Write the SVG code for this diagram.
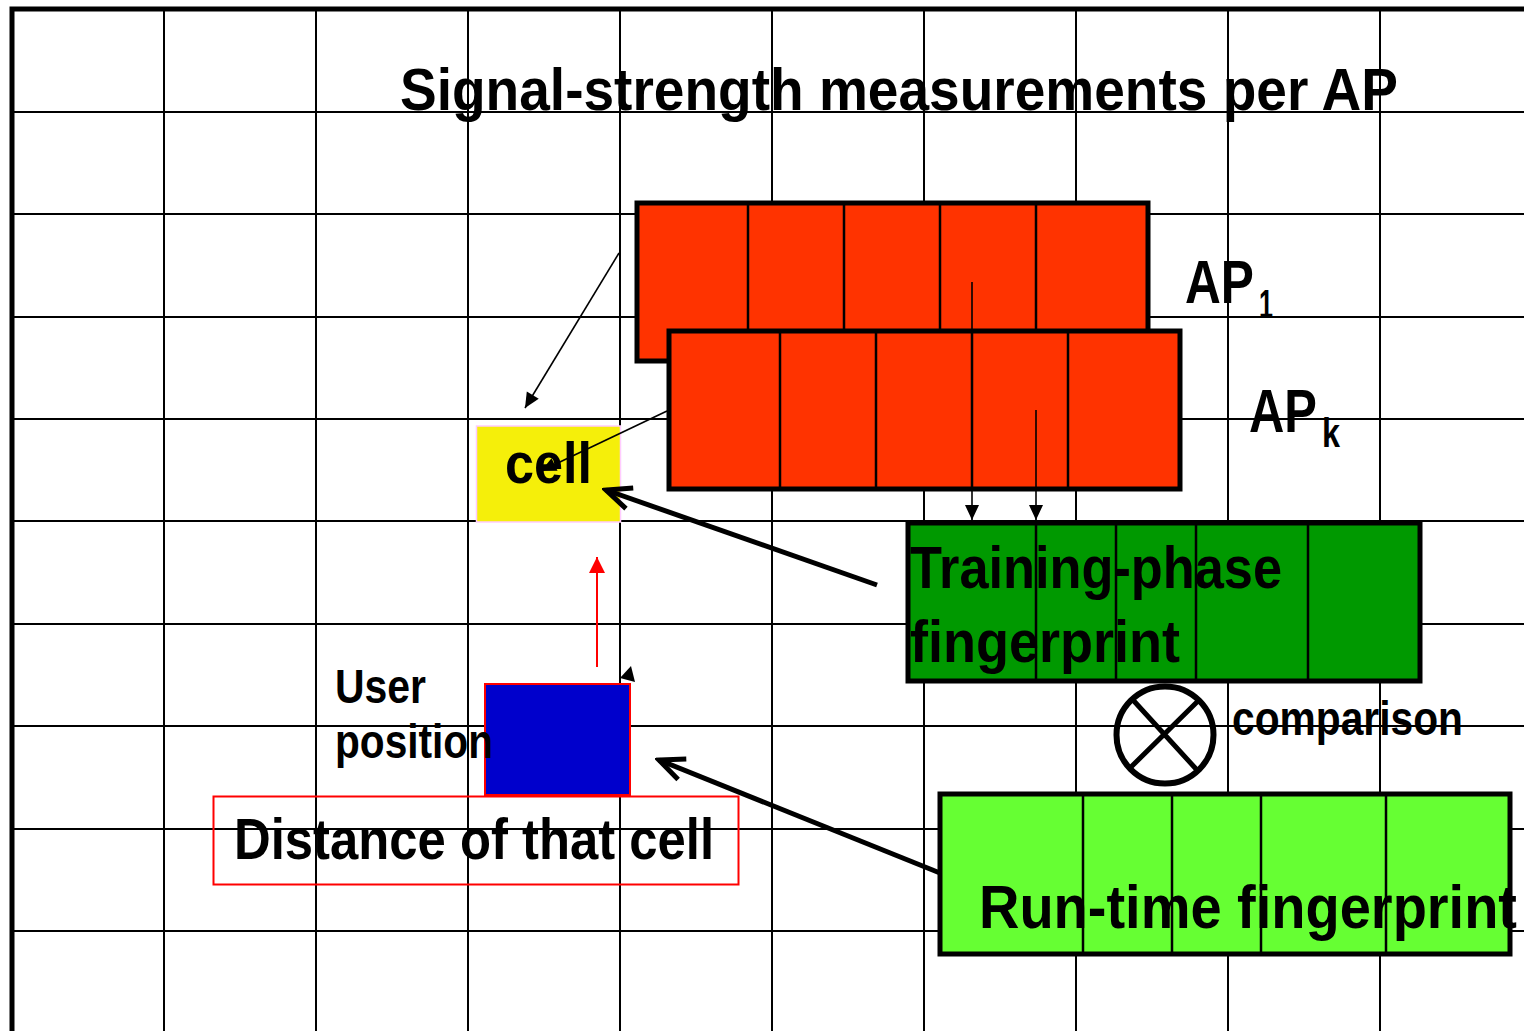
<svg xmlns="http://www.w3.org/2000/svg" width="1524" height="1031" viewBox="0 0 1524 1031">
  <style>
    .grid { stroke: #000; stroke-width: 2; fill: none; }
    .border { stroke: #000; stroke-width: 5; fill: none; }
    .t { font-family: "Liberation Sans Narrow", "Arial Narrow", "Liberation Sans", Arial, sans-serif; font-weight: bold; fill: #000; }
    .ap { fill: #ff3300; stroke: #000; stroke-width: 5; }
    .train { fill: #009900; stroke: #000; stroke-width: 5; }
    .run { fill: #66ff33; stroke: #000; stroke-width: 5; }
    .div { stroke: #000; stroke-width: 2.5; }
    .thin { stroke: #000; stroke-width: 1.6; fill: none; }
    .thick { stroke: #000; stroke-width: 5; fill: none; }
  </style>
  <defs>
    <marker id="tip" viewBox="-16 -8 17 16" refX="0" refY="0" markerWidth="17" markerHeight="16" markerUnits="userSpaceOnUse" orient="auto">
      <path d="M0,0 L-15,-7 L-15,7 Z" fill="#000"/>
    </marker>
    <marker id="tipRed" viewBox="-17 -9 18 18" refX="0" refY="0" markerWidth="18" markerHeight="18" markerUnits="userSpaceOnUse" orient="auto">
      <path d="M0,0 L-16,-8 L-16,8 Z" fill="#ff0000"/>
    </marker>
    <marker id="vee" viewBox="-30 -16 34 32" refX="0" refY="0" markerWidth="34" markerHeight="32" markerUnits="userSpaceOnUse" orient="auto">
      <path d="M-25,-11 L0,0 L-25,11" fill="none" stroke="#000" stroke-width="5" stroke-linejoin="miter"/>
    </marker>
  </defs>

  <rect width="1524" height="1031" fill="#fff"/>

  <!-- floor grid -->
  <g id="grid">
    <path class="grid" d="M164,9V1031 M316,9V1031 M468,9V1031 M620,9V1031 M772,9V1031 M924,9V1031 M1076,9V1031 M1228,9V1031 M1380,9V1031
                          M12,112H1524 M12,214H1524 M12,317H1524 M12,419H1524 M12,521H1524 M12,624H1524 M12,726H1524 M12,829H1524 M12,931H1524"/>
    <path class="border" d="M12,1031V9H1524"/>
  </g>

  <g id="title">
    <text class="t" x="400" y="110" font-size="60" textLength="998" lengthAdjust="spacingAndGlyphs">Signal-strength measurements per AP</text>
  </g>

  <!-- access point measurement vectors -->
  <g id="ap1">
    <rect class="ap" x="637" y="203" width="511" height="158"/>
    <path class="div" d="M748,203V361 M844,203V361 M940,203V361 M1036,203V361"/>
    <text class="t" font-size="62"><tspan x="1185" y="303" textLength="69" lengthAdjust="spacingAndGlyphs">AP</tspan><tspan x="1259" y="318" font-size="40" textLength="14" lengthAdjust="spacingAndGlyphs">1</tspan></text>
  </g>
  <g id="apk">
    <rect class="ap" x="669" y="331" width="511" height="158"/>
    <path class="div" d="M780,331V489 M876,331V489 M972,331V489 M1068,331V489" stroke-width="4"/>
    <text class="t" font-size="62"><tspan x="1249" y="432" textLength="68" lengthAdjust="spacingAndGlyphs">AP</tspan><tspan x="1322" y="447" font-size="40" textLength="18" lengthAdjust="spacingAndGlyphs">k</tspan></text>
  </g>

  <g id="cell">
    <rect x="476.5" y="426" width="144" height="96" fill="#f5ef0a" stroke="#ffccff" stroke-width="1.5"/>
    <text class="t" x="505" y="483" font-size="58" textLength="87" lengthAdjust="spacingAndGlyphs">cell</text>
  </g>

  <g id="training">
    <rect class="train" x="908" y="523" width="512" height="158"/>
    <path class="div" d="M1036,523V681 M1116,523V681 M1196,523V681 M1308,523V681"/>
    <text class="t" x="910" y="588" font-size="60" textLength="372" lengthAdjust="spacingAndGlyphs">Training-phase</text>
    <text class="t" x="910" y="662" font-size="60" textLength="270" lengthAdjust="spacingAndGlyphs">fingerprint</text>
  </g>

  <g id="comparison">
    <ellipse cx="1165" cy="735" rx="48.5" ry="48.5" fill="none" stroke="#000" stroke-width="6"/>
    <path d="M1133,700L1197,770 M1131,767L1198,701" stroke="#000" stroke-width="5"/>
    <text class="t" x="1232" y="735" font-size="48" textLength="231" lengthAdjust="spacingAndGlyphs">comparison</text>
  </g>

  <g id="runtime">
    <rect class="run" x="940" y="794" width="570" height="160"/>
    <path class="div" d="M1083,794V954 M1172,794V954 M1261,794V954 M1386,794V954"/>
    <text class="t" x="979" y="928" font-size="62" textLength="538" lengthAdjust="spacingAndGlyphs">Run-time fingerprint</text>
  </g>

  <g id="user">
    <rect x="485" y="684" width="145" height="111" fill="#0000cc" stroke="#ff0000" stroke-width="2"/>
    <text class="t" x="335" y="703" font-size="48" textLength="91" lengthAdjust="spacingAndGlyphs">User</text>
    <text class="t" x="335" y="758" font-size="48" textLength="158" lengthAdjust="spacingAndGlyphs">position</text>
  </g>

  <g id="distance">
    <rect x="213.5" y="796.5" width="525" height="88" fill="none" stroke="#ff0000" stroke-width="2"/>
    <text class="t" x="234" y="859" font-size="58" textLength="480" lengthAdjust="spacingAndGlyphs">Distance of that cell</text>
  </g>

  <!-- connectors -->
  <g id="connectors">
    <line class="thin" x1="619" y1="253" x2="525" y2="408" marker-end="url(#tip)"/>
    <line class="thin" x1="667" y1="411" x2="541" y2="471" marker-end="url(#tip)"/>
    <line class="thin" x1="972" y1="282" x2="972" y2="520" marker-end="url(#tip)"/>
    <line class="thin" x1="1036" y1="410" x2="1036" y2="520" marker-end="url(#tip)"/>
    <line x1="597" y1="667" x2="597" y2="557" stroke="#ff0000" stroke-width="2" marker-end="url(#tipRed)"/>
    <line class="thick" x1="877" y1="585" x2="606" y2="490" marker-end="url(#vee)"/>
    <line class="thick" x1="940" y1="873" x2="659" y2="760" marker-end="url(#vee)"/>
    <polygon points="631,666 620,678 635,682" fill="#000"/>
  </g>
</svg>
